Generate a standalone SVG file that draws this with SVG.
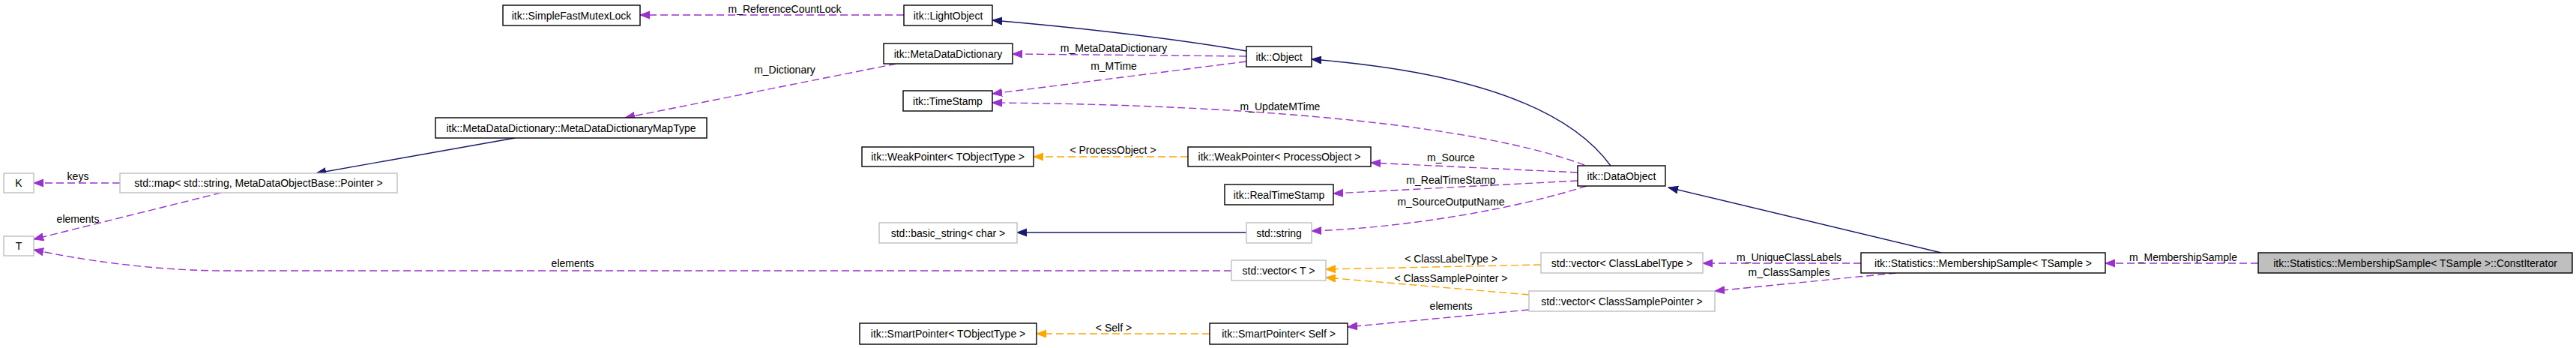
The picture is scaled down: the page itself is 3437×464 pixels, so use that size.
<svg xmlns="http://www.w3.org/2000/svg" width="3437" height="464" viewBox="0 0 3437 464">
<style>
text{font-family:"Liberation Sans",Arial,sans-serif;font-size:14px;fill:#000;text-anchor:middle}
.n rect{fill:#fff;stroke:#000;stroke-width:1.4}
.g rect{fill:#fff;stroke:#bfbfbf;stroke-width:1.4}
.cur rect{fill:#bfbfbf;stroke:#000;stroke-width:1.4}
.inh{fill:none;stroke:#191970;stroke-width:1.4;marker-end:url(#aN)}
.use{fill:none;stroke:#9a32cd;stroke-width:1.4;stroke-dasharray:10,5;marker-end:url(#aP)}
.tpl{fill:none;stroke:#ffa500;stroke-width:1.4;stroke-dasharray:10,5;marker-end:url(#aO)}
</style>
<defs>
<marker id="aN" markerUnits="userSpaceOnUse" markerWidth="14" markerHeight="12" refX="13" refY="6" orient="auto"><path d="M0,1 L13,6 L0,11 z" fill="#191970" stroke="#191970"/></marker>
<marker id="aP" markerUnits="userSpaceOnUse" markerWidth="14" markerHeight="12" refX="13" refY="6" orient="auto"><path d="M0,1 L13,6 L0,11 z" fill="#9a32cd" stroke="#9a32cd"/></marker>
<marker id="aO" markerUnits="userSpaceOnUse" markerWidth="14" markerHeight="12" refX="13" refY="6" orient="auto"><path d="M0,1 L13,6 L0,11 z" fill="#ffa500" stroke="#ffa500"/></marker>
</defs>
<rect width="3437" height="464" fill="#fff"/>
<g id="connectors">
<path class="use" d="M1206,20 L854,20"/><text x="1047" y="17">m_ReferenceCountLock</text>
<path class="inh" d="M1663,68 C1560,50 1420,35 1324,27"/>
<path class="use" d="M1663,75 L1351,72"/><text x="1486" y="69">m_MetaDataDictionary</text>
<path class="use" d="M1663,82 L1324,125"/><text x="1486" y="93">m_MTime</text>
<path class="use" d="M1196,85 L834,157"/><text x="1047" y="98">m_Dictionary</text>
<path class="inh" d="M687,184 L422,231"/>
<path class="use" d="M160,244 L45,244"/><text x="104" y="240">keys</text>
<path class="use" d="M295,257 L45,319"/><text x="104" y="297">elements</text>
<path class="use" d="M1643,361 L300,361 C200,361 100,345 45,333"/><text x="764" y="356">elements</text>
<path class="inh" d="M2149,221 C2090,140 1950,95 1750,79"/>
<path class="use" d="M2114,220 C1980,170 1700,140 1324,137"/><text x="1708" y="147">m_UpdateMTime</text>
<path class="use" d="M2105,230 L1829,217"/><text x="1936" y="215">m_Source</text>
<path class="tpl" d="M1585,209 L1379,209"/><text x="1485" y="205">&lt; ProcessObject &gt;</text>
<path class="use" d="M2105,241 L1779,258"/><text x="1936" y="245">m_RealTimeStamp</text>
<path class="use" d="M2117,248 C2000,285 1850,305 1750,308"/><text x="1936" y="274">m_SourceOutputName</text>
<path class="inh" d="M1663,310 L1357,310"/>
<path class="inh" d="M2590,337 L2226,250"/>
<path class="tpl" d="M2056,353 L1769,359"/><text x="1936" y="350">&lt; ClassLabelType &gt;</text>
<path class="tpl" d="M2040,393 L1769,370"/><text x="1936" y="376">&lt; ClassSamplePointer &gt;</text>
<path class="use" d="M2040,413 L1798,436"/><text x="1936" y="413">elements</text>
<path class="tpl" d="M1614,445 L1383,445"/><text x="1486" y="442">&lt; Self &gt;</text>
<path class="use" d="M2483,351 L2272,351"/><text x="2387" y="348">m_UniqueClassLabels</text>
<path class="use" d="M2530,364 L2288,388"/><text x="2387" y="368">m_ClassSamples</text>
<path class="use" d="M3013,351 L2809,351"/><text x="2913" y="348">m_MembershipSample</text>
</g>
<g id="SimpleFastMutexLock" class="n"><rect x="671" y="7" width="183" height="27"/><text x="762.5" y="25.5">itk::SimpleFastMutexLock</text></g>
<g id="LightObject" class="n"><rect x="1206" y="7" width="118" height="27"/><text x="1265" y="25.5">itk::LightObject</text></g>
<g id="MetaDataDictionary" class="n"><rect x="1179" y="58" width="172" height="27"/><text x="1265" y="76.5">itk::MetaDataDictionary</text></g>
<g id="TimeStamp" class="n"><rect x="1205" y="121" width="119" height="27"/><text x="1264.5" y="139.5">itk::TimeStamp</text></g>
<g id="MetaDataDictionaryMapType" class="n"><rect x="581" y="157" width="362" height="27"/><text x="762" y="175.5">itk::MetaDataDictionary::MetaDataDictionaryMapType</text></g>
<g id="K" class="g"><rect x="5" y="231" width="40" height="26"/><text x="25" y="249">K</text></g>
<g id="StdMap" class="g"><rect x="160" y="231" width="370" height="26"/><text x="345" y="249">std::map&lt; std::string, MetaDataObjectBase::Pointer &gt;</text></g>
<g id="T" class="g"><rect x="5" y="315" width="40" height="26"/><text x="25" y="333">T</text></g>
<g id="WeakPointerT" class="n"><rect x="1150" y="196" width="229" height="26"/><text x="1264.5" y="214">itk::WeakPointer&lt; TObjectType &gt;</text></g>
<g id="Object" class="n"><rect x="1663" y="62" width="87" height="27"/><text x="1706.5" y="80.5">itk::Object</text></g>
<g id="WeakPointerPO" class="n"><rect x="1585" y="196" width="244" height="26"/><text x="1707" y="214">itk::WeakPointer&lt; ProcessObject &gt;</text></g>
<g id="DataObject" class="n"><rect x="2105" y="221" width="117" height="27"/><text x="2163.5" y="239.5">itk::DataObject</text></g>
<g id="RealTimeStamp" class="n"><rect x="1634" y="246" width="145" height="27"/><text x="1706.5" y="264.5">itk::RealTimeStamp</text></g>
<g id="BasicString" class="g"><rect x="1173" y="297" width="184" height="27"/><text x="1265" y="315.5">std::basic_string&lt; char &gt;</text></g>
<g id="StdString" class="g"><rect x="1663" y="297" width="87" height="27"/><text x="1706.5" y="315.5">std::string</text></g>
<g id="VectorT" class="g"><rect x="1643" y="347" width="126" height="27"/><text x="1706" y="365.5">std::vector&lt; T &gt;</text></g>
<g id="VectorClassLabelType" class="g"><rect x="2056" y="337" width="216" height="27"/><text x="2164" y="355.5">std::vector&lt; ClassLabelType &gt;</text></g>
<g id="VectorClassSamplePointer" class="g"><rect x="2040" y="388" width="248" height="27"/><text x="2164" y="406.5">std::vector&lt; ClassSamplePointer &gt;</text></g>
<g id="SmartPointerT" class="n"><rect x="1147" y="431" width="236" height="28"/><text x="1265" y="450">itk::SmartPointer&lt; TObjectType &gt;</text></g>
<g id="SmartPointerSelf" class="n"><rect x="1614" y="431" width="184" height="28"/><text x="1706" y="450">itk::SmartPointer&lt; Self &gt;</text></g>
<g id="MembershipSample" class="n"><rect x="2483" y="337" width="326" height="27"/><text x="2646" y="355.5">itk::Statistics::MembershipSample&lt; TSample &gt;</text></g>
<g id="ConstIterator" class="cur"><rect x="3013" y="337" width="419" height="27"/><text x="3222.5" y="355.5">itk::Statistics::MembershipSample&lt; TSample &gt;::ConstIterator</text></g>
</svg>
